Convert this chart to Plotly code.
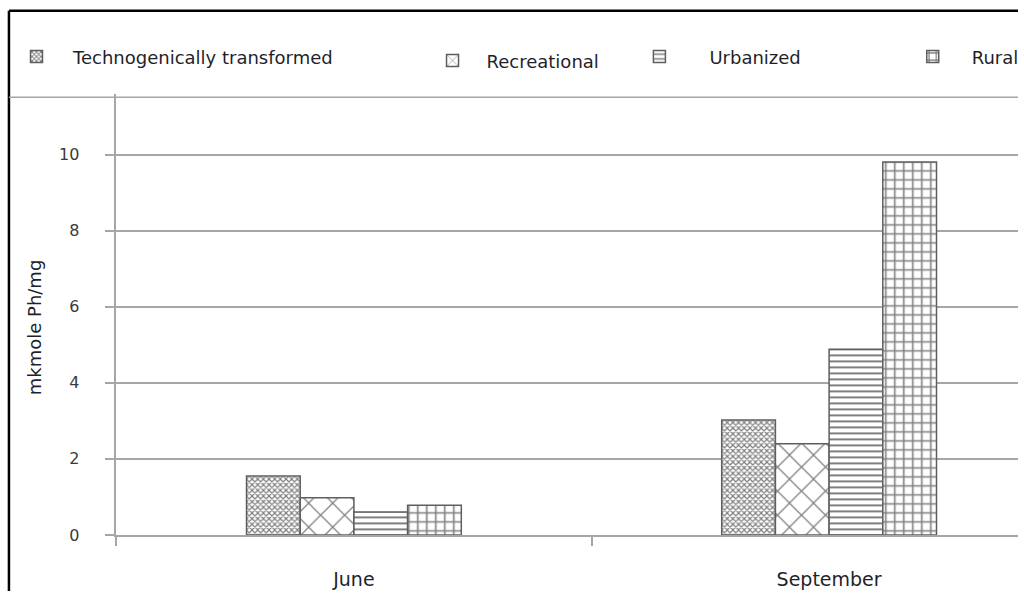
import plotly.graph_objects as go

# Measurements per sampling month and land-use zone
months = ["June", "September"]
zones = ["Technogenically transformed", "Recreational", "Urbanized", "Rural"]
technogenic = [1.55, 3.02]
recreational = [0.98, 2.4]
urbanized = [0.6, 4.88]
rural = [0.78, 9.8]
y_ticks = [0, 2, 4, 6, 8, 10]

series = [technogenic, recreational, urbanized, rural]

W, H = 1024, 601
FONT = "DejaVu Sans"
GRID = "#a6a6a6"

# hatch styles for each zone (white bars, black hatch)
patterns = [
    dict(shape="x", size=4, solidity=0.5, fgcolor="black", bgcolor="white"),
    dict(shape="x", size=17, solidity=0.14, fgcolor="black", bgcolor="white"),
    dict(shape="-", size=6, solidity=0.33, fgcolor="black", bgcolor="white"),
    dict(shape="+", size=9, solidity=0.32, fgcolor="black", bgcolor="white"),
]

# one legend per entry so the entries can sit at their own positions
legend_specs = [
    # (legend id, text start px, item width, top px)
    ("legend", 73, 63, 39),
    ("legend2", 489, 58, 43),
    ("legend3", 713, 90, 39),
    ("legend4", 977, 68, 39),
]

fig = go.Figure()
for vals, name, pat, spec in zip(series, zones, patterns, legend_specs):
    fig.add_trace(go.Bar(
        x=months, y=vals, name=name,
        marker=dict(color="white", pattern=pat,
                    line=dict(color="#5e5e5e", width=1.5)),
        legend=spec[0],
    ))

def px_x(p):
    return p / W

def px_y(p):
    return (H - p) / H

layout_legends = {}
for lg, text_x, iw, top in legend_specs:
    layout_legends[lg] = dict(
        x=px_x(max(text_x - (iw + 10), 0)), y=px_y(top), xanchor="left", yanchor="top",
        bgcolor="rgba(0,0,0,0)", borderwidth=0, itemwidth=iw,
        font=dict(family=FONT, size=18, color="#1f1f2a"),
        itemclick=False, itemdoubleclick=False,
    )

y_top = 11.58
fig.update_layout(
    width=W, height=H,
    margin=dict(l=0, r=0, t=0, b=0),
    paper_bgcolor="white", plot_bgcolor="white",
    barmode="group", bargap=0.548, bargroupgap=0,
    showlegend=True,
    font=dict(family=FONT, color="#1f1f2a"),
    xaxis=dict(
        domain=[px_x(117), 1.0],
        range=[-0.5, -0.5 + 907 / 478],
        showline=True, linecolor=GRID, linewidth=1.5,
        ticks="outside", tickson="boundaries", ticklen=9, tickcolor=GRID, tickwidth=1.5,
        showgrid=False,
        tickfont=dict(family=FONT, size=19, color="#1f1f2a"),
        ticklabelstandoff=27,
    ),
    yaxis=dict(
        domain=[px_y(544), px_y(96)],
        range=[0, y_top],
        tickvals=y_ticks,
        showline=True, linecolor=GRID, linewidth=1.5,
        ticks="outside", ticklen=10, tickcolor=GRID, tickwidth=1.5,
        showgrid=True, gridcolor=GRID, gridwidth=1.5,
        zeroline=False,
        tickfont=dict(family=FONT, size=16, color="#3a3a3a"),
        ticklabelstandoff=22,
    ),
    annotations=[
        dict(text="mkmole Ph/mg", textangle=-90, xref="paper", yref="paper",
             x=px_x(35), y=px_y(333), xanchor="center", yanchor="middle",
             showarrow=False, font=dict(family=FONT, size=18, color="#1f1f2a")),
    ],
    shapes=[
        # outer frame (top and left edges)
        dict(type="line", xref="paper", yref="paper", x0=px_x(9), x1=1.0,
             y0=px_y(11), y1=px_y(11), line=dict(color="black", width=2.5)),
        dict(type="line", xref="paper", yref="paper", x0=px_x(9), x1=px_x(9),
             y0=px_y(11), y1=0, line=dict(color="black", width=2.5)),
        # separator below the legend row
        dict(type="line", xref="paper", yref="paper", x0=px_x(9), x1=1.0,
             y0=px_y(99), y1=px_y(99), line=dict(color=GRID, width=1.5)),
    ],
    **layout_legends,
)

# page without body margin, sized exactly to the figure
page_css = (
    "document.documentElement.style.margin='0';"
    "document.documentElement.style.overflow='hidden';"
    "document.body.style.margin='0';"
    "document.body.style.overflow='hidden';"
    "var gd=document.getElementById('{plot_id}');"
    "gd.parentElement.style.height='601px';"
    "gd.parentElement.style.overflow='hidden';"
    "document.body.style.height='601px';"
)
fig.write_html("out.html", post_script=page_css)
